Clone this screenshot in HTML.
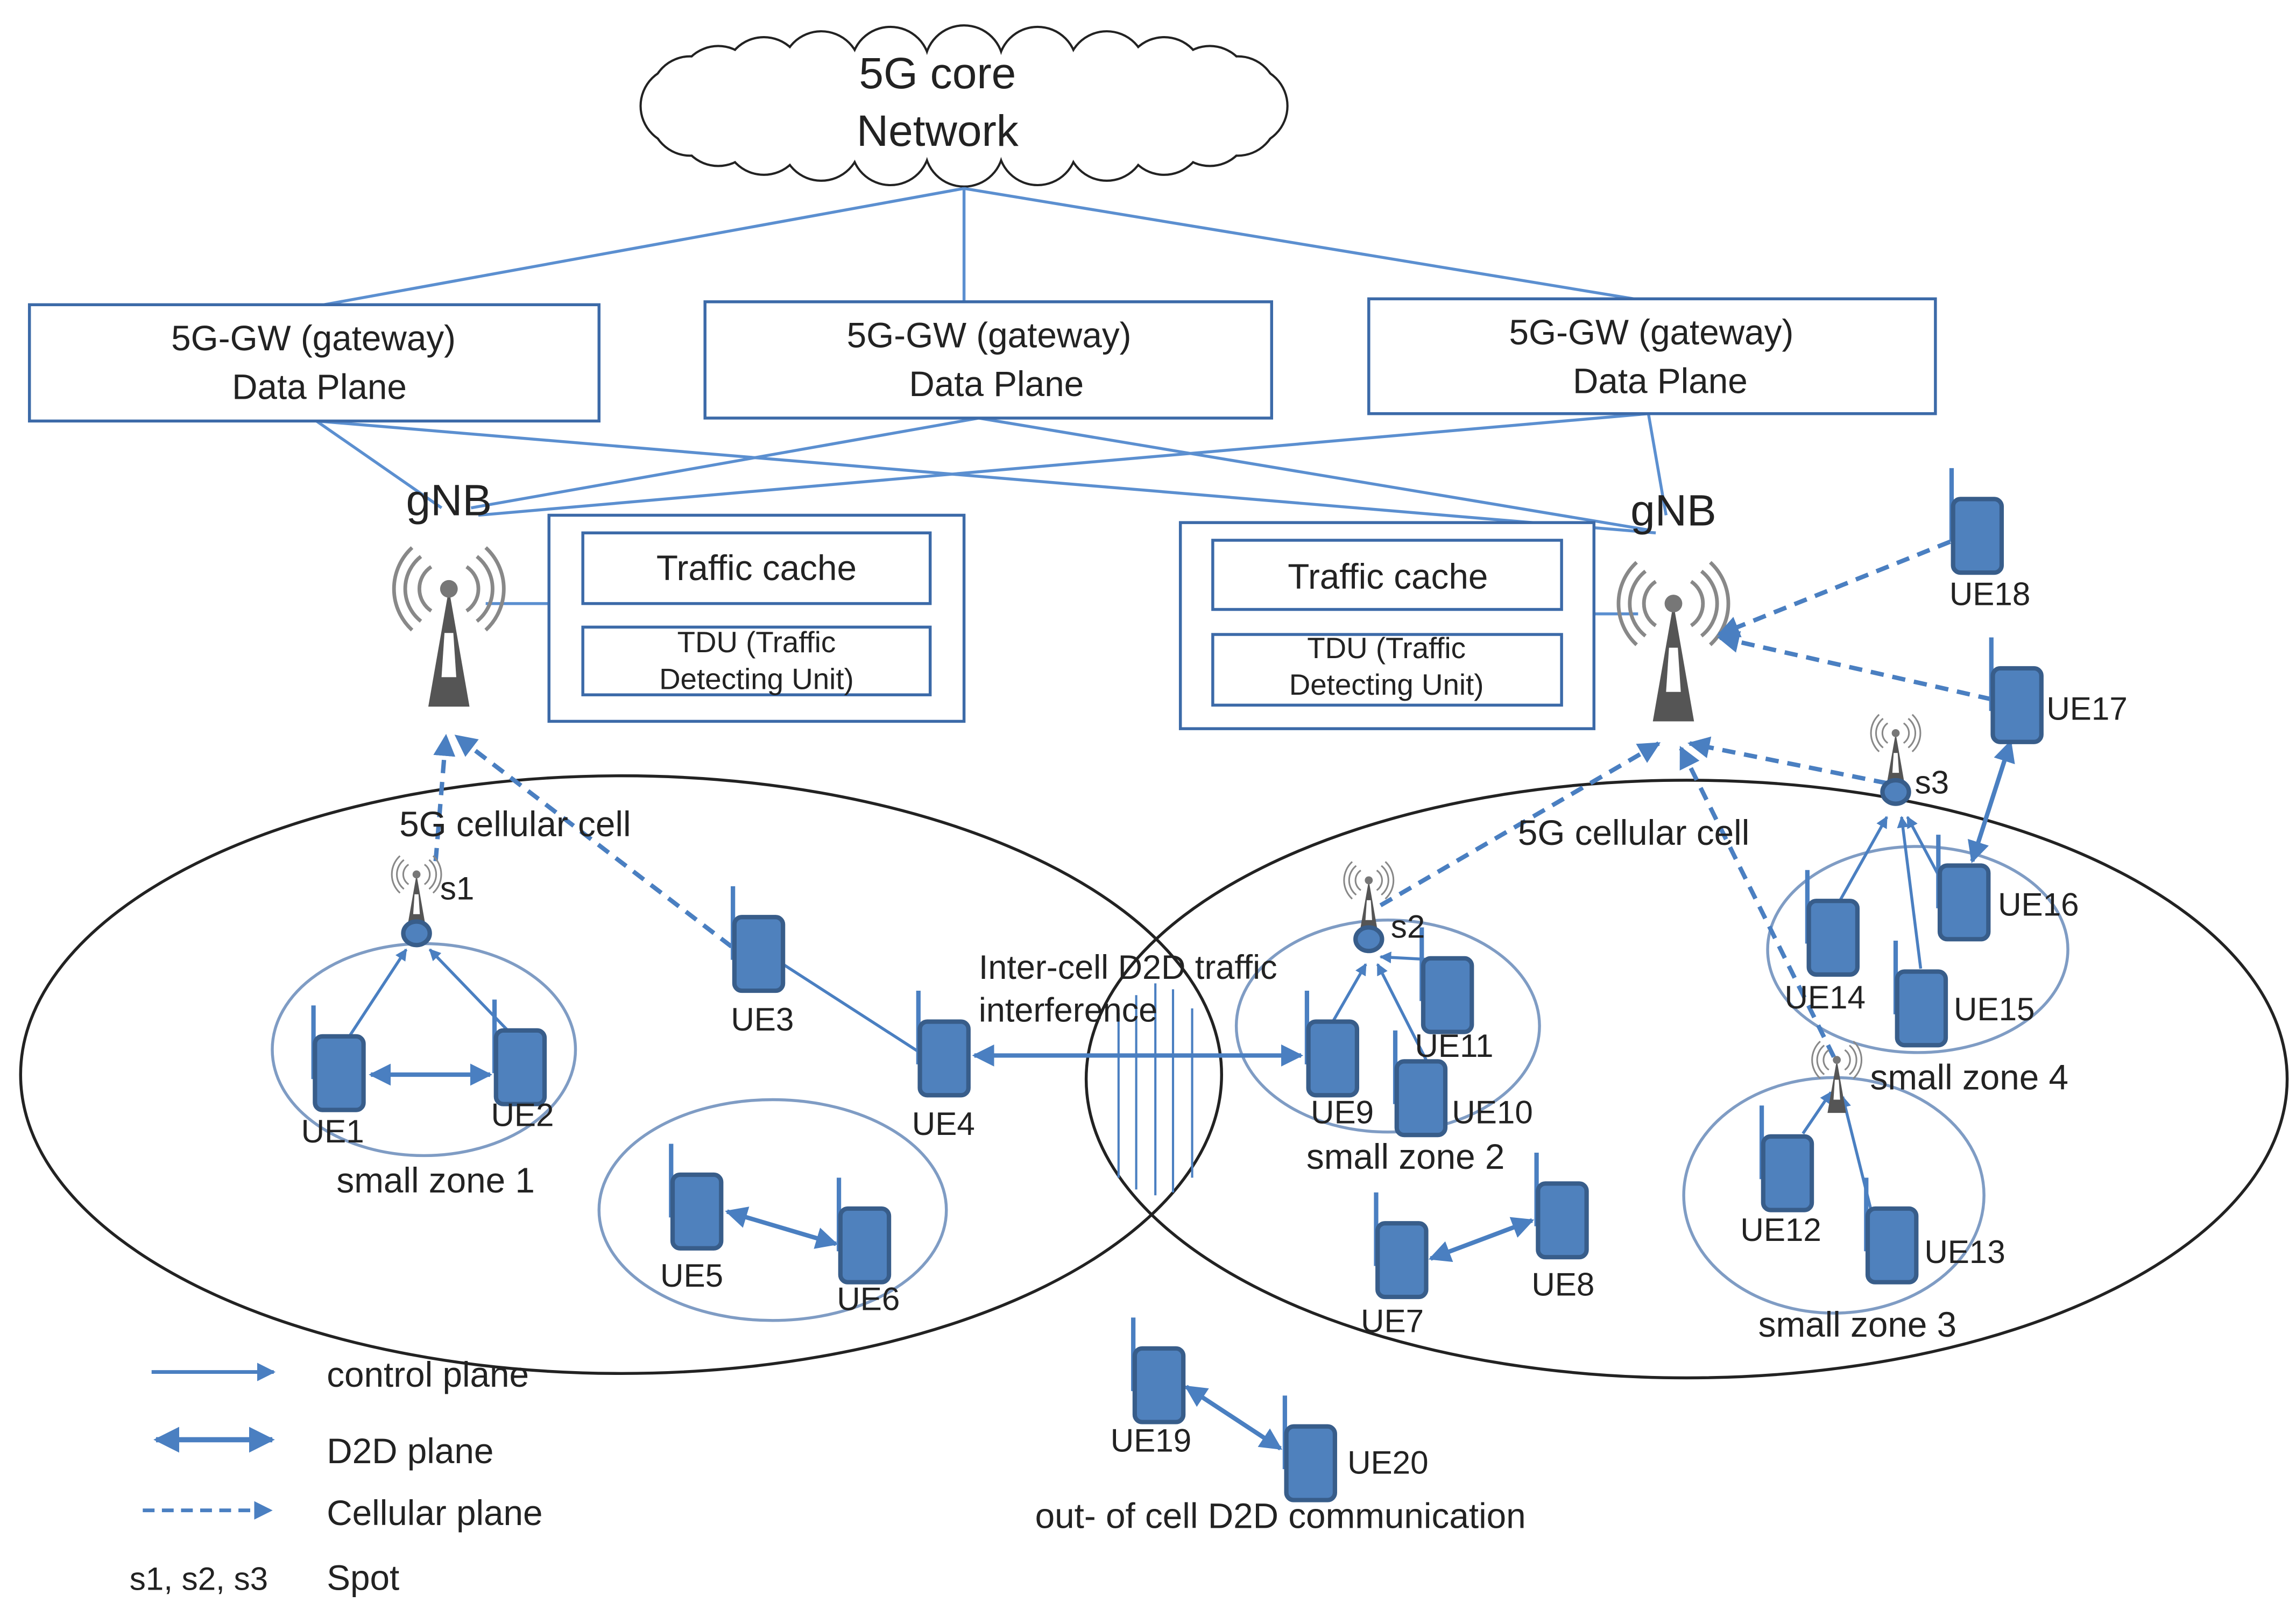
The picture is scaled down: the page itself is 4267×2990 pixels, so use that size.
<!DOCTYPE html>
<html><head><meta charset="utf-8"><style>
html,body{margin:0;padding:0;background:#fff}
svg{display:block}
text{font-family:"Liberation Sans",sans-serif;fill:#222}
</style></head><body>
<svg width="4267" height="2990" viewBox="0 0 1560 1093" preserveAspectRatio="none" xmlns="http://www.w3.org/2000/svg">
<defs>
<marker id="ah" viewBox="0 0 10 10" refX="9" refY="5" markerWidth="5" markerHeight="5" orient="auto-start-reverse"><path d="M0,0L10,5L0,10z" fill="#4a7fc1"/></marker>
<marker id="ah2" viewBox="0 0 10 10" refX="9" refY="5" markerWidth="4" markerHeight="4" orient="auto-start-reverse"><path d="M0,0L10,5L0,10z" fill="#4a7fc1"/></marker>
<g id="ue"><line x1="-17" y1="-45" x2="-17" y2="5" stroke="#4a7fc1" stroke-width="3"/><rect x="-16" y="-24" width="33" height="50" rx="5" fill="#4f81bd" stroke="#385d8a" stroke-width="3"/></g>
<g id="tower"><path d="M0,-40 L-14,40 L14,40 Z" fill="#555"/><path d="M-3,-10 L3,-10 L5,20 L-5,20Z" fill="#fff"/><circle cx="0" cy="-40" r="6" fill="#777"/>
<g fill="none" stroke="#888" stroke-width="2.5"><path d="M-12,-55 A18,18 0 0,0 -12,-25"/><path d="M12,-55 A18,18 0 0,1 12,-25"/><path d="M-19,-62 A28,28 0 0,0 -19,-18"/><path d="M19,-62 A28,28 0 0,1 19,-18"/><path d="M-25,-68 A38,38 0 0,0 -25,-12"/><path d="M25,-68 A38,38 0 0,1 25,-12"/></g></g>
<g id="spot"><g transform="scale(0.45)"><use href="#tower"/></g><ellipse cx="0" cy="22" rx="9" ry="8" fill="#4f81bd" stroke="#385d8a" stroke-width="3"/></g>
<g id="cl">
<circle cx="848" cy="72" r="26"/><circle cx="841" cy="79" r="26"/><circle cx="822" cy="86" r="26"/><circle cx="791" cy="92" r="26"/><circle cx="752" cy="96" r="26"/><circle cx="705" cy="99" r="26"/><circle cx="655" cy="100" r="26"/><circle cx="605" cy="99" r="26"/><circle cx="558" cy="96" r="26"/><circle cx="519" cy="92" r="26"/><circle cx="488" cy="86" r="26"/><circle cx="469" cy="79" r="26"/><circle cx="462" cy="72" r="26"/><circle cx="469" cy="65" r="26"/><circle cx="488" cy="58" r="26"/><circle cx="519" cy="52" r="26"/><circle cx="558" cy="48" r="26"/><circle cx="605" cy="45" r="26"/><circle cx="655" cy="44" r="26"/><circle cx="705" cy="45" r="26"/><circle cx="752" cy="48" r="26"/><circle cx="791" cy="52" r="26"/><circle cx="822" cy="58" r="26"/><circle cx="841" cy="65" r="26"/>
</g>
</defs>

<!-- cloud -->
<g stroke="#222" stroke-width="3" fill="#fff"><use href="#cl"/></g>
<g fill="#fff"><use href="#cl"/><ellipse cx="655" cy="72" rx="190" ry="28"/></g>
<text x="637" y="60" font-size="30" text-anchor="middle">5G core</text>
<text x="637" y="99" font-size="30" text-anchor="middle">Network</text>

<!-- core/gw lines -->
<g stroke="#5b8fd0" stroke-width="2" fill="none">
<line x1="655" y1="128" x2="220" y2="207"/><line x1="655" y1="128" x2="655" y2="205"/><line x1="655" y1="128" x2="1110" y2="203"/>
<line x1="215" y1="286" x2="300" y2="345"/><line x1="215" y1="286" x2="1125" y2="362"/>
<line x1="665" y1="284" x2="320" y2="345"/><line x1="665" y1="284" x2="1120" y2="360"/>
<line x1="1120" y1="281" x2="325" y2="350"/><line x1="1120" y1="281" x2="1132" y2="350"/>
<line x1="330" y1="410" x2="373" y2="410"/><line x1="1083" y1="417" x2="1113" y2="417"/>
</g>
<g stroke="#3c6aa8" stroke-width="2" fill="#fff">
<rect x="20" y="207" width="387" height="79"/><rect x="479" y="205" width="385" height="79"/><rect x="930" y="203" width="385" height="78"/>
<rect x="373" y="350" width="282" height="140"/><rect x="396" y="362" width="236" height="48"/><rect x="396" y="426" width="236" height="46"/>
<rect x="802" y="355" width="281" height="140"/><rect x="824" y="367" width="237" height="47"/><rect x="824" y="431" width="237" height="48"/>
</g>
<g font-size="24" text-anchor="middle">
<text x="213" y="238">5G-GW  (gateway)</text><text x="217" y="271">Data Plane</text>
<text x="672" y="236">5G-GW  (gateway)</text><text x="677" y="269">Data Plane</text>
<text x="1122" y="234">5G-GW  (gateway)</text><text x="1128" y="267">Data Plane</text>
<text x="514" y="394">Traffic cache</text><text x="943" y="400">Traffic cache</text>
</g>
<g font-size="20" text-anchor="middle">
<text x="514" y="443">TDU (Traffic</text><text x="514" y="468">Detecting Unit)</text>
<text x="942" y="447">TDU (Traffic</text><text x="942" y="472">Detecting Unit)</text>
</g>
<text x="305" y="350" font-size="30" text-anchor="middle">gNB</text>
<text x="1137" y="357" font-size="30" text-anchor="middle">gNB</text>
<g transform="translate(305,440)"><use href="#tower"/></g>
<g transform="translate(1137,450)"><use href="#tower"/></g>

<!-- big ellipses -->
<g fill="none" stroke="#222" stroke-width="2">
<ellipse cx="422" cy="730" rx="408" ry="203"/><ellipse cx="1146" cy="733" rx="408" ry="203"/>
</g>
<g fill="none" stroke="#7f9cc4" stroke-width="2">
<ellipse cx="288" cy="713" rx="103" ry="72"/><ellipse cx="525" cy="822" rx="118" ry="75"/><ellipse cx="943" cy="697" rx="103" ry="72"/><ellipse cx="1303" cy="645" rx="102" ry="70"/><ellipse cx="1246" cy="812" rx="102" ry="80"/>
</g>
<g stroke="#4a7fc1" stroke-width="1.5">
<line x1="760" y1="688" x2="760" y2="800"/><line x1="772" y1="676" x2="772" y2="808"/><line x1="785" y1="668" x2="785" y2="812"/><line x1="797" y1="672" x2="797" y2="810"/><line x1="810" y1="685" x2="810" y2="800"/>
</g>

<!-- connectors -->
<g stroke="#4a7fc1" stroke-width="2" fill="none" marker-end="url(#ah2)">
<line x1="238" y1="703" x2="276" y2="645"/><line x1="345" y1="700" x2="292" y2="645"/>
<line x1="905" y1="695" x2="928" y2="655"/><line x1="970" y1="722" x2="936" y2="655"/><line x1="975" y1="652" x2="938" y2="650"/>
<line x1="1250" y1="612" x2="1282" y2="555"/><line x1="1305" y1="658" x2="1292" y2="555"/><line x1="1320" y1="600" x2="1296" y2="555"/>
<line x1="1225" y1="770" x2="1244" y2="742"/><line x1="1272" y1="825" x2="1252" y2="745"/>
</g>
<g stroke="#4a7fc1" stroke-width="2" fill="none">
<line x1="532" y1="655" x2="625" y2="715"/>
</g>
<g stroke="#4a7fc1" stroke-width="3" fill="none" marker-start="url(#ah)" marker-end="url(#ah)">
<line x1="252" y1="730" x2="333" y2="730"/><line x1="662" y1="717" x2="884" y2="717"/><line x1="494" y1="823" x2="568" y2="845"/>
<line x1="972" y1="855" x2="1041" y2="829"/><line x1="806" y1="942" x2="870" y2="984"/><line x1="1340" y1="585" x2="1366" y2="504"/>
</g>
<g stroke="#4a7fc1" stroke-width="3" fill="none" stroke-dasharray="9,6" marker-end="url(#ah)">
<line x1="497" y1="643" x2="310" y2="500"/><line x1="296" y1="585" x2="303" y2="500"/>
<line x1="938" y1="615" x2="1127" y2="505"/><line x1="1282" y1="532" x2="1148" y2="505"/><line x1="1246" y1="718" x2="1142" y2="508"/>
<line x1="1325" y1="368" x2="1168" y2="431"/><line x1="1353" y1="475" x2="1168" y2="433"/>
</g>

<!-- spots -->
<g transform="translate(283,612)"><use href="#spot"/></g>
<g transform="translate(930,616)"><use href="#spot"/></g>
<g transform="translate(1288,516)"><use href="#spot"/></g>
<g transform="translate(1248,738) scale(0.45)"><use href="#tower"/></g>

<!-- UEs -->
<use href="#ue" x="230" y="728"/><use href="#ue" x="353" y="724"/><use href="#ue" x="515" y="647"/><use href="#ue" x="641" y="718"/>
<use href="#ue" x="473" y="822"/><use href="#ue" x="587" y="845"/><use href="#ue" x="952" y="855"/><use href="#ue" x="1061" y="828"/>
<use href="#ue" x="905" y="718"/><use href="#ue" x="965" y="745"/><use href="#ue" x="983" y="675"/><use href="#ue" x="1214" y="796"/>
<use href="#ue" x="1285" y="845"/><use href="#ue" x="1245" y="636"/><use href="#ue" x="1305" y="684"/><use href="#ue" x="1334" y="612"/>
<use href="#ue" x="1370" y="478"/><use href="#ue" x="1343" y="363"/><use href="#ue" x="787" y="940"/><use href="#ue" x="890" y="993"/>

<g font-size="22" text-anchor="middle">
<text x="226" y="776">UE1</text><text x="355" y="765">UE2</text><text x="518" y="700">UE3</text><text x="641" y="771">UE4</text>
<text x="470" y="874">UE5</text><text x="590" y="890">UE6</text><text x="946" y="905">UE7</text><text x="1062" y="880">UE8</text>
<text x="912" y="763">UE9</text><text x="1014" y="763">UE10</text><text x="988" y="718">UE11</text><text x="1210" y="843">UE12</text>
<text x="1335" y="858">UE13</text><text x="1240" y="685">UE14</text><text x="1355" y="693">UE15</text><text x="1385" y="622">UE16</text>
<text x="1418" y="489">UE17</text><text x="1352" y="411">UE18</text><text x="782" y="986">UE19</text><text x="943" y="1001">UE20</text>
</g>
<g font-size="22">
<text x="299" y="611">s1</text><text x="945" y="637">s2</text><text x="1301" y="539">s3</text>
</g>
<g font-size="24" text-anchor="middle">
<text x="350" y="568">5G cellular cell</text><text x="1110" y="574">5G cellular cell</text>
<text x="296" y="810">small zone 1</text><text x="955" y="794">small zone 2</text><text x="1338" y="740">small zone 4</text><text x="1262" y="908">small zone 3</text>
<text x="870" y="1038">out- of cell D2D communication</text>
</g>
<g font-size="23"><text x="665" y="665">Inter-cell D2D traffic</text><text x="665" y="694">interference</text></g>

<!-- legend -->
<g stroke="#4a7fc1" stroke-width="2.5" fill="none">
<line x1="103" y1="932" x2="186" y2="932" marker-end="url(#ah)"/>
<line x1="106" y1="978" x2="185" y2="978" stroke-width="3.5" marker-start="url(#ah)" marker-end="url(#ah)"/>
<line x1="97" y1="1026" x2="184" y2="1026" stroke-dasharray="8,5" marker-end="url(#ah)"/>
</g>
<g font-size="24">
<text x="222" y="942">control plane</text><text x="222" y="994">D2D plane</text><text x="222" y="1036">Cellular plane</text>
<text x="88" y="1080" font-size="22">s1, s2, s3</text><text x="222" y="1080">Spot</text>
</g>
</svg>
</body></html>
